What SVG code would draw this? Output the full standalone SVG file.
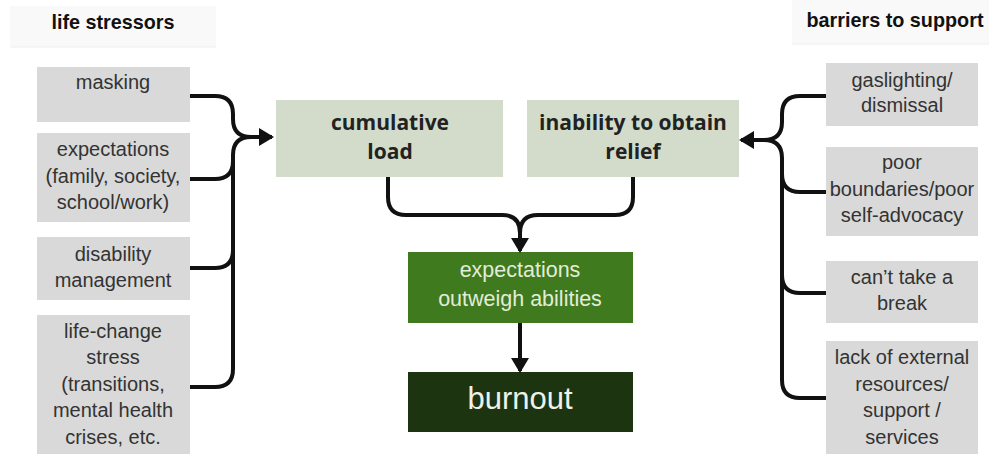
<svg xmlns="http://www.w3.org/2000/svg" width="989" height="454" viewBox="0 0 989 454">
<style>
.box{fill:#d9d9d9}
.hdr{fill:#f9f9f9}
.t{font-family:"Liberation Sans",Arial,sans-serif;font-size:20px;fill:#333;text-anchor:middle}
.h{font-family:"Liberation Sans",Arial,sans-serif;font-size:19.8px;font-weight:bold;fill:#111;text-anchor:middle}
.b{font-family:"Open Sans","Liberation Sans",sans-serif;font-size:21px;font-weight:bold;fill:#222;text-anchor:middle}
.g{font-family:"Liberation Sans",Arial,sans-serif;font-size:21.5px;fill:#e3ecd9;text-anchor:middle}
.c{fill:none;stroke:#111;stroke-width:4}
</style>
<defs>
<marker id="ah" markerUnits="userSpaceOnUse" markerWidth="16" markerHeight="18" refX="13" refY="9" orient="auto">
<path d="M0,0 L15,9 L0,18 Z" fill="#111"/>
</marker>
</defs>
<rect width="989" height="454" fill="#ffffff"/>

<g id="hdr-left"><rect class="hdr" x="10" y="6" width="206" height="41"/><line x1="10" y1="47" x2="216" y2="47" stroke="#eeeeee"/><text class="h" x="113" y="29">life stressors</text></g>
<g id="hdr-right"><rect class="hdr" x="792" y="0" width="197" height="44"/><line x1="792" y1="44" x2="989" y2="44" stroke="#eeeeee"/><text class="h" x="895" y="27">barriers to support</text></g>

<g id="masking"><rect class="box" x="37" y="67" width="153" height="55"/><text class="t" x="113" y="89">masking</text></g>
<g id="expectations"><rect class="box" x="37" y="133" width="153" height="89"/><text class="t" x="113" y="156">expectations</text><text class="t" x="113" y="183">(family, society,</text><text class="t" x="113" y="209">school/work)</text></g>
<g id="disability"><rect class="box" x="37" y="237" width="153" height="63"/><text class="t" x="113" y="261">disability</text><text class="t" x="113" y="287">management</text></g>
<g id="lifechange"><rect class="box" x="37" y="315" width="153" height="145"/><text class="t" x="113" y="338">life-change</text><text class="t" x="113" y="364">stress</text><text class="t" x="113" y="391">(transitions,</text><text class="t" x="113" y="417">mental health</text><text class="t" x="113" y="444">crises, etc.</text></g>

<g id="gaslighting"><rect class="box" x="826" y="63" width="152" height="63"/><text class="t" x="902" y="87">gaslighting/</text><text class="t" x="902" y="112">dismissal</text></g>
<g id="boundaries"><rect class="box" x="826" y="147" width="152" height="89"/><text class="t" x="902" y="169">poor</text><text class="t" x="902" y="196">boundaries/poor</text><text class="t" x="902" y="222">self-advocacy</text></g>
<g id="break"><rect class="box" x="826" y="261" width="152" height="62"/><text class="t" x="902" y="284">can’t take a</text><text class="t" x="902" y="310">break</text></g>
<g id="resources"><rect class="box" x="826" y="341" width="152" height="120"/><text class="t" x="902" y="364">lack of external</text><text class="t" x="902" y="391">resources/</text><text class="t" x="902" y="417">support /</text><text class="t" x="902" y="444">services</text></g>

<g id="cumulative"><rect x="276" y="100" width="227" height="77" fill="#d3dcca"/><text class="b" x="390" y="130">cumulative</text><text class="b" x="390" y="159">load</text></g>
<g id="relief"><rect x="527" y="100" width="212" height="77" fill="#d3dcca"/><text class="b" x="633" y="130">inability to obtain</text><text class="b" x="633" y="159">relief</text></g>
<g id="outweigh"><rect x="408" y="252" width="225" height="71" fill="#3f7a1e"/><text class="g" x="520" y="277">expectations</text><text class="g" x="520" y="306">outweigh abilities</text></g>
<g id="burnout"><rect x="408" y="372" width="225" height="60" fill="#1c3510"/><text x="520" y="409" font-family="Liberation Sans,Arial,sans-serif" font-size="31" fill="#eef2ea" text-anchor="middle">burnout</text></g>

<g id="connectors">
<path class="c" d="M190,96 H215 Q233,96 233,114 V119 Q233,137 251,137 H272" marker-end="url(#ah)"/>
<path class="c" d="M190,387 H215 Q233,387 233,369 V155 Q233,137 251,137"/>
<path class="c" d="M190,179 H215 Q233,179 233,161"/>
<path class="c" d="M190,268 H215 Q233,268 233,250"/>
<path class="c" d="M826,96 H800 Q782,96 782,114 V122 Q782,140 764,140 H741" marker-end="url(#ah)"/>
<path class="c" d="M826,398 H800 Q782,398 782,380 V158 Q782,140 764,140"/>
<path class="c" d="M826,192 H800 Q782,192 782,174"/>
<path class="c" d="M826,293 H800 Q782,293 782,275"/>
<path class="c" d="M388,177 V197 Q388,215 406,215 H502 Q520,215 520,233 V251" marker-end="url(#ah)"/>
<path class="c" d="M633,177 V197 Q633,215 615,215 H538 Q520,215 520,233"/>
<path class="c" d="M520,323 V371" marker-end="url(#ah)"/>
</g>
</svg>
